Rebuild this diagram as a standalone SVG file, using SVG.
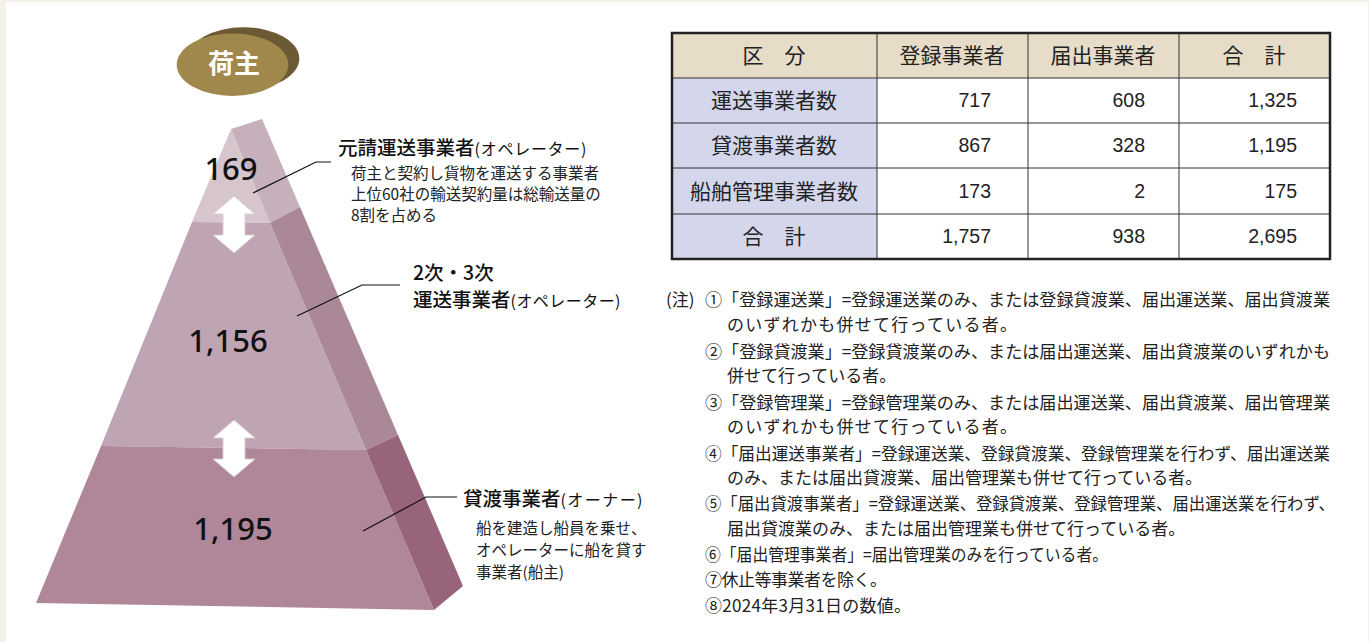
<svg xmlns="http://www.w3.org/2000/svg" width="1369" height="642" viewBox="0 0 1369 642">
<style>
.jp{font-family:"Noto Sans CJK JP","Liberation Sans",sans-serif;fill:#1a1a1a}
.num{font-family:"Noto Sans","Liberation Sans",sans-serif;font-weight:500;font-size:31px;fill:#111;text-anchor:middle}
.lblm{font-family:"Noto Sans CJK JP",sans-serif;font-weight:500;font-size:19.5px;fill:#111}
.lblp{font-size:16px;font-weight:400}
.lbls{font-family:"Noto Sans CJK JP",sans-serif;font-size:15.5px;fill:#222}
.th{font-family:"Noto Sans CJK JP",sans-serif;font-size:21px;fill:#222;text-anchor:middle}
.tn{font-family:"Liberation Sans",Arial,sans-serif;font-size:19.5px;fill:#222;text-anchor:end}
.note{font-family:"Noto Sans CJK JP",sans-serif;font-size:17px;fill:#222}
.lead{fill:none;stroke:#111;stroke-width:1.2}
.arrow{fill:#fff;stroke:#d6ccd1;stroke-width:1}
.grid{stroke:#333;stroke-width:1;fill:none}
</style>
<rect x="0" y="0" width="1369" height="642" fill="#f4f1e8"/>
<rect x="6" y="2" width="1362" height="640" fill="#ffffff"/>

<g id="shipper">
  <ellipse cx="243.5" cy="58.6" rx="55.8" ry="31.3" fill="#6b5a33"/>
  <ellipse cx="232.5" cy="64.7" rx="55.8" ry="31.3" fill="#a0874b"/>
  <text x="234" y="73" font-family="Noto Sans CJK JP,sans-serif" font-weight="700" font-size="26" fill="#fff" text-anchor="middle">荷主</text>
</g>

<g id="pyramid">
  <g id="tier-top">
    <polygon points="231,129 192,222 270,223" fill="#d7c5ce"/>
    <polygon points="231,129 262,119 300,207 270,223" fill="#c5b0bb"/>
  </g>
  <g id="tier-middle">
    <polygon points="192,222 270,223 366,450 101,446" fill="#bfa4b3"/>
    <polygon points="270,223 300,207 398,435 366,450" fill="#aa8898"/>
  </g>
  <g id="tier-bottom">
    <polygon points="101,446 366,450 434,610 36,603" fill="#b08699"/>
    <polygon points="366,450 398,435 463,586 434,610" fill="#97647b"/>
  </g>
  <text class="num" x="231" y="180">169</text>
  <text class="num" x="228" y="352">1,156</text>
  <text class="num" x="233" y="540">1,195</text>
  <path class="arrow" d="M234,196 L255,214 L245,214 L245,235 L255,235 L234,253 L213,235 L223,235 L223,214 L213,214 Z"/>
  <path class="arrow" d="M234,420 L255,438 L245,438 L245,459 L255,459 L234,477 L213,459 L223,459 L223,438 L213,438 Z"/>
</g>

<g id="connectors">
  <polyline class="lead" points="253,193 316,162 331,162"/>
  <polyline class="lead" points="297,316 362,285 400,285"/>
  <polyline class="lead" points="363,531 426,497 457,497"/>
</g>

<g id="label-prime">
  <text class="lblm" x="338" y="155">元請運送事業者<tspan class="lblp" textLength="112">(オペレーター)</tspan></text>
  <text class="lbls" x="351" y="179">荷主と契約し貨物を運送する事業者</text>
  <text class="lbls" x="351" y="200">上位60社の輸送契約量は総輸送量の</text>
  <text class="lbls" x="351" y="221">8割を占める</text>
</g>
<g id="label-secondary">
  <text class="lblm" x="413" y="280">2次・3次</text>
  <text class="lblm" x="413" y="307">運送事業者<tspan class="lblp" textLength="110">(オペレーター)</tspan></text>
</g>
<g id="label-owner">
  <text class="lblm" x="463" y="506">貸渡事業者<tspan class="lblp" textLength="82">(オーナー)</tspan></text>
  <text class="lbls" x="476" y="534">船を建造し船員を乗せ、</text>
  <text class="lbls" x="476" y="556">オペレーターに船を貸す</text>
  <text class="lbls" x="476" y="578">事業者(船主)</text>
</g>

<g id="table">
  <rect x="672" y="33" width="658" height="45" fill="#e6dcc8"/>
  <rect x="672" y="78" width="205" height="181" fill="#d4d7ec"/>
  <rect x="877" y="78" width="453" height="181" fill="#ffffff"/>
  <line class="grid" x1="672" y1="78" x2="1330" y2="78"/>
  <line class="grid" x1="672" y1="123" x2="1330" y2="123"/>
  <line class="grid" x1="672" y1="168" x2="1330" y2="168"/>
  <line class="grid" x1="672" y1="214" x2="1330" y2="214"/>
  <line class="grid" x1="877" y1="33" x2="877" y2="259"/>
  <line class="grid" x1="1028" y1="33" x2="1028" y2="259"/>
  <line class="grid" x1="1179" y1="33" x2="1179" y2="259"/>
  <rect x="672" y="33" width="658" height="226" fill="none" stroke="#222" stroke-width="2.5"/>
  <text class="th" x="774" y="63">区　分</text>
  <text class="th" x="952" y="63">登録事業者</text>
  <text class="th" x="1103" y="63">届出事業者</text>
  <text class="th" x="1254" y="63">合　計</text>
  <text class="th" x="774" y="108">運送事業者数</text>
  <text class="th" x="774" y="153">貸渡事業者数</text>
  <text class="th" x="774" y="199">船舶管理事業者数</text>
  <text class="th" x="774" y="244">合　計</text>
  <text class="tn" x="991" y="107">717</text>
  <text class="tn" x="1145" y="107">608</text>
  <text class="tn" x="1297" y="107">1,325</text>
  <text class="tn" x="991" y="152">867</text>
  <text class="tn" x="1145" y="152">328</text>
  <text class="tn" x="1297" y="152">1,195</text>
  <text class="tn" x="991" y="198">173</text>
  <text class="tn" x="1145" y="198">2</text>
  <text class="tn" x="1297" y="198">175</text>
  <text class="tn" x="991" y="243">1,757</text>
  <text class="tn" x="1145" y="243">938</text>
  <text class="tn" x="1297" y="243">2,695</text>
</g>

<g id="notes">
  <text class="note" x="666" y="306">(注)</text>
  <text class="note" x="705" y="306" textLength="625" lengthAdjust="spacingAndGlyphs">①「登録運送業」=登録運送業のみ、または登録貸渡業、届出運送業、届出貸渡業</text>
  <text class="note" x="727" y="331" textLength="290">のいずれかも併せて行っている者。</text>
  <text class="note" x="705" y="358" textLength="625" lengthAdjust="spacingAndGlyphs">②「登録貸渡業」=登録貸渡業のみ、または届出運送業、届出貸渡業のいずれかも</text>
  <text class="note" x="727" y="382">併せて行っている者。</text>
  <text class="note" x="705" y="409" textLength="625" lengthAdjust="spacingAndGlyphs">③「登録管理業」=登録管理業のみ、または届出運送業、届出貸渡業、届出管理業</text>
  <text class="note" x="727" y="433" textLength="290">のいずれかも併せて行っている者。</text>
  <text class="note" x="705" y="460" textLength="625" lengthAdjust="spacingAndGlyphs">④「届出運送事業者」=登録運送業、登録貸渡業、登録管理業を行わず、届出運送業</text>
  <text class="note" x="727" y="484">のみ、または届出貸渡業、届出管理業も併せて行っている者。</text>
  <text class="note" x="705" y="510" textLength="630" lengthAdjust="spacingAndGlyphs">⑤「届出貸渡事業者」=登録運送業、登録貸渡業、登録管理業、届出運送業を行わず、</text>
  <text class="note" x="727" y="535">届出貸渡業のみ、または届出管理業も併せて行っている者。</text>
  <text class="note" x="705" y="561" textLength="403" lengthAdjust="spacingAndGlyphs">⑥「届出管理事業者」=届出管理業のみを行っている者。</text>
  <text class="note" x="705" y="586" textLength="182">⑦休止等事業者を除く。</text>
  <text class="note" x="705" y="612" textLength="206">⑧2024年3月31日の数値。</text>
</g>
</svg>
